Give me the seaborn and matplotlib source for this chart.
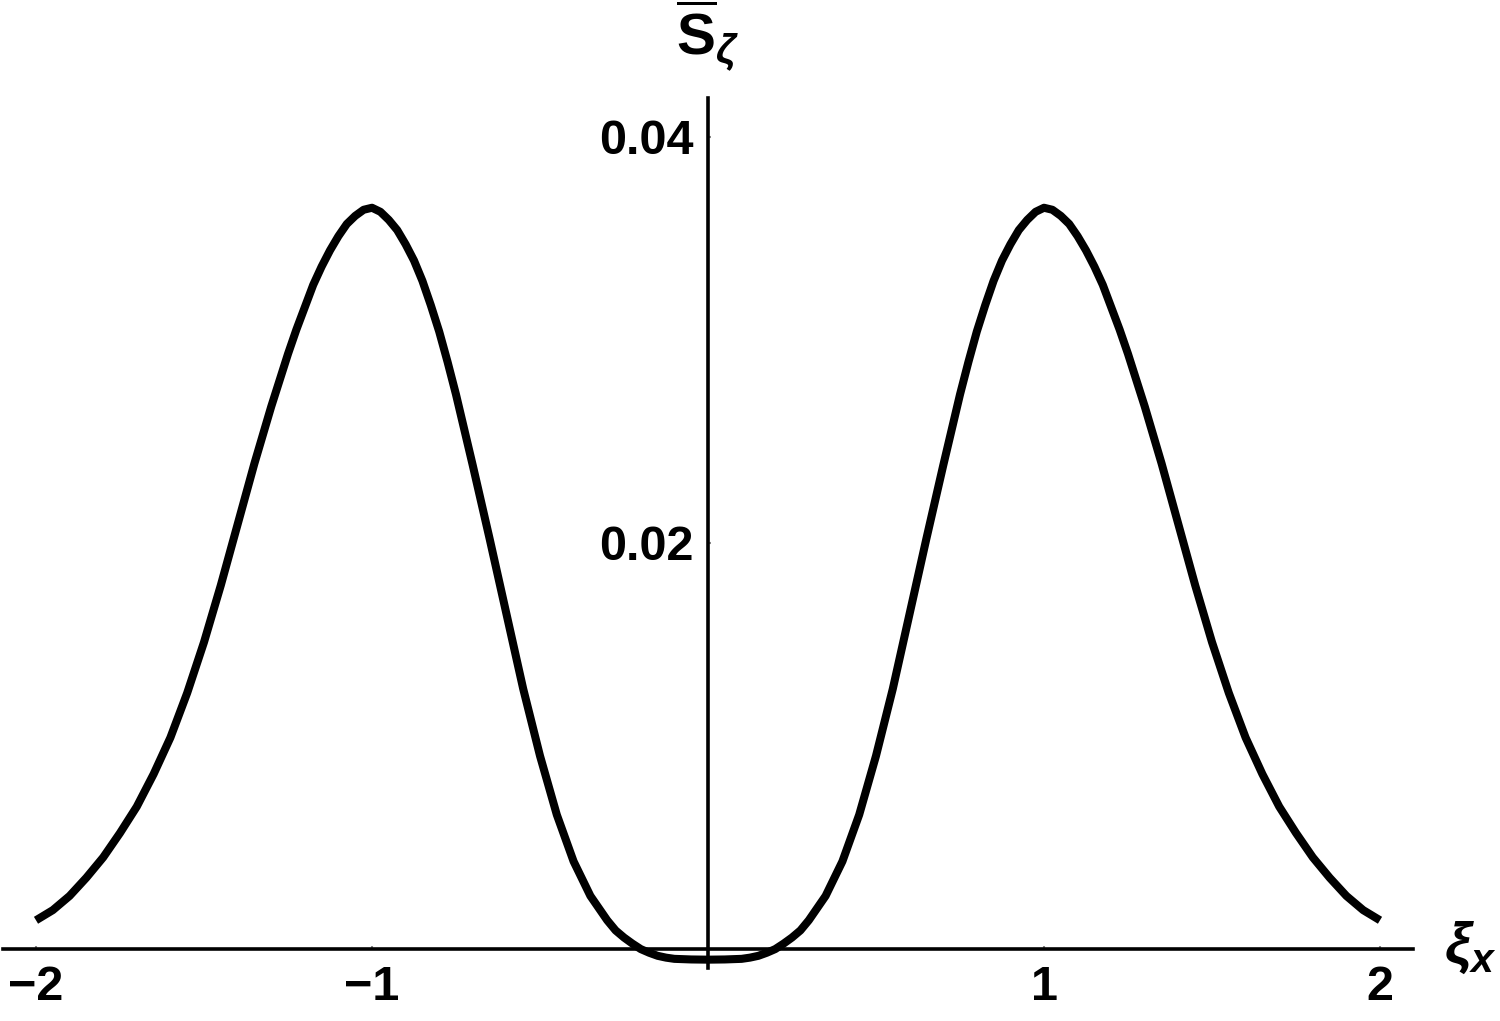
import numpy as np
import pandas as pd
import seaborn as sns
import matplotlib.pyplot as plt

# ---- data ----
xi_x = [-2.00, -1.95, -1.90, -1.85, -1.80, -1.75, -1.70, -1.65, -1.60, -1.55,
        -1.50, -1.45, -1.40, -1.35, -1.30, -1.25, -1.225, -1.20, -1.175, -1.15,
        -1.125, -1.10, -1.075, -1.05, -1.025, -1.00, -0.975, -0.95, -0.925, -0.90,
        -0.875, -0.85, -0.825, -0.80, -0.775, -0.75, -0.70, -0.65, -0.60, -0.55,
        -0.50, -0.45, -0.40, -0.35, -0.325, -0.30, -0.275, -0.25, -0.225, -0.20,
        -0.175, -0.15, -0.125, -0.10, -0.05,
        0.00,
        0.05, 0.10, 0.125, 0.15, 0.175, 0.20, 0.225, 0.25, 0.275, 0.30,
        0.325, 0.35, 0.40, 0.45, 0.50, 0.55, 0.60, 0.65, 0.70, 0.75,
        0.775, 0.80, 0.825, 0.85, 0.875, 0.90, 0.925, 0.95, 0.975, 1.00,
        1.025, 1.05, 1.075, 1.10, 1.125, 1.15, 1.175, 1.20, 1.225, 1.25,
        1.30, 1.35, 1.40, 1.45, 1.50, 1.55, 1.60, 1.65, 1.70, 1.75,
        1.80, 1.85, 1.90, 1.95, 2.00]
s_zeta = [0.0014, 0.0019, 0.0026, 0.0035, 0.0045, 0.0057, 0.0070, 0.0086, 0.0104, 0.0126,
          0.0151, 0.0179, 0.0209, 0.0239, 0.0267, 0.0293, 0.0305, 0.0316, 0.0327, 0.0336,
          0.0344, 0.0351, 0.0357, 0.0361, 0.0364, 0.0365, 0.0363, 0.0359, 0.0354, 0.0347,
          0.0339, 0.0329, 0.0317, 0.0304, 0.0289, 0.0273, 0.0238, 0.0202, 0.0165, 0.0128,
          0.0095, 0.0066, 0.0043, 0.0026, 0.0020, 0.0014, 0.0009, 0.00055, 0.00025, -0.00002,
          -0.00020, -0.00035, -0.00044, -0.00050, -0.00053,
          -0.00054,
          -0.00053, -0.00050, -0.00044, -0.00035, -0.00020, -0.00002, 0.00025, 0.00055, 0.0009, 0.0014,
          0.0020, 0.0026, 0.0043, 0.0066, 0.0095, 0.0128, 0.0165, 0.0202, 0.0238, 0.0273,
          0.0289, 0.0304, 0.0317, 0.0329, 0.0339, 0.0347, 0.0354, 0.0359, 0.0363, 0.0365,
          0.0364, 0.0361, 0.0357, 0.0351, 0.0344, 0.0336, 0.0327, 0.0316, 0.0305, 0.0293,
          0.0267, 0.0239, 0.0209, 0.0179, 0.0151, 0.0126, 0.0104, 0.0086, 0.0070, 0.0057,
          0.0045, 0.0035, 0.0026, 0.0019, 0.0014]
x_ticks = [-2, -1, 1, 2]
x_tick_labels = ["\u22122", "\u22121", "1", "2"]
y_ticks = [0.02, 0.04]
y_tick_labels = ["0.02", "0.04"]

df = pd.DataFrame({"xi": xi_x, "S": s_zeta})

sns.set_theme(style="white")
plt.rcParams["font.family"] = ["Liberation Sans", "DejaVu Sans"]
plt.rcParams["text.color"] = "black"
plt.rcParams["xtick.color"] = "black"
plt.rcParams["ytick.color"] = "black"
plt.rcParams["mathtext.fontset"] = "custom"
plt.rcParams["mathtext.rm"] = "Liberation Sans:bold"
plt.rcParams["mathtext.bf"] = "Liberation Sans:bold"
plt.rcParams["mathtext.it"] = "Liberation Sans:bold:italic"

W, H = 1500, 1021
fig = plt.figure(figsize=(W / 100, H / 100), dpi=100)
ax = fig.add_axes([0, 0, 1, 1])
ax.set_facecolor("white")

sns.lineplot(data=df, x="xi", y="S", sort=False, estimator=None,
             color="black", linewidth=5.8, ax=ax,
             solid_capstyle="butt", solid_joinstyle="round")

x0_px, ux = 708, 336.0
y0_px, uy = 948.7, 20300.0
ax.set_xlim(-x0_px / ux, (W - x0_px) / ux)
ax.set_ylim(-(H - y0_px) / uy, y0_px / uy)

for s in ["top", "right"]:
    ax.spines[s].set_visible(False)
ax.spines["left"].set_position(("data", 0))
ax.spines["bottom"].set_position(("data", 0))
ax.spines["left"].set_bounds(-(968 - y0_px) / uy, (y0_px - 98) / uy)
ax.spines["bottom"].set_bounds((3 - x0_px) / ux, (1413 - x0_px) / ux)
for s in ["left", "bottom"]:
    ax.spines[s].set_color("black")
    ax.spines[s].set_linewidth(2.6)

ax.set_xticks(x_ticks)
ax.set_xticklabels(x_tick_labels, fontsize=35, fontweight="bold", color="black")
ax.set_yticks(y_ticks)
ax.set_yticklabels(y_tick_labels, fontsize=35, fontweight="bold", color="black")
ax.tick_params(axis="both", direction="in", length=2.5, width=1.5,
               color="#888888", labelcolor="black", bottom=True, left=True)
ax.tick_params(axis="x", pad=12)
ax.tick_params(axis="y", pad=10)
ax.set_xlabel("")
ax.set_ylabel("")
ax.grid(False)

fig.text(676 / W, 1 - 54 / H, r"$\overline{\mathrm{S}}_{\zeta}$",
         fontsize=42, ha="left", va="baseline", color="black")
fig.text(1444 / W, 1 - 963 / H, r"$\xi_{x}$",
         fontsize=42, ha="left", va="baseline", color="black")

fig.savefig("out.png", dpi=100, facecolor="white")
